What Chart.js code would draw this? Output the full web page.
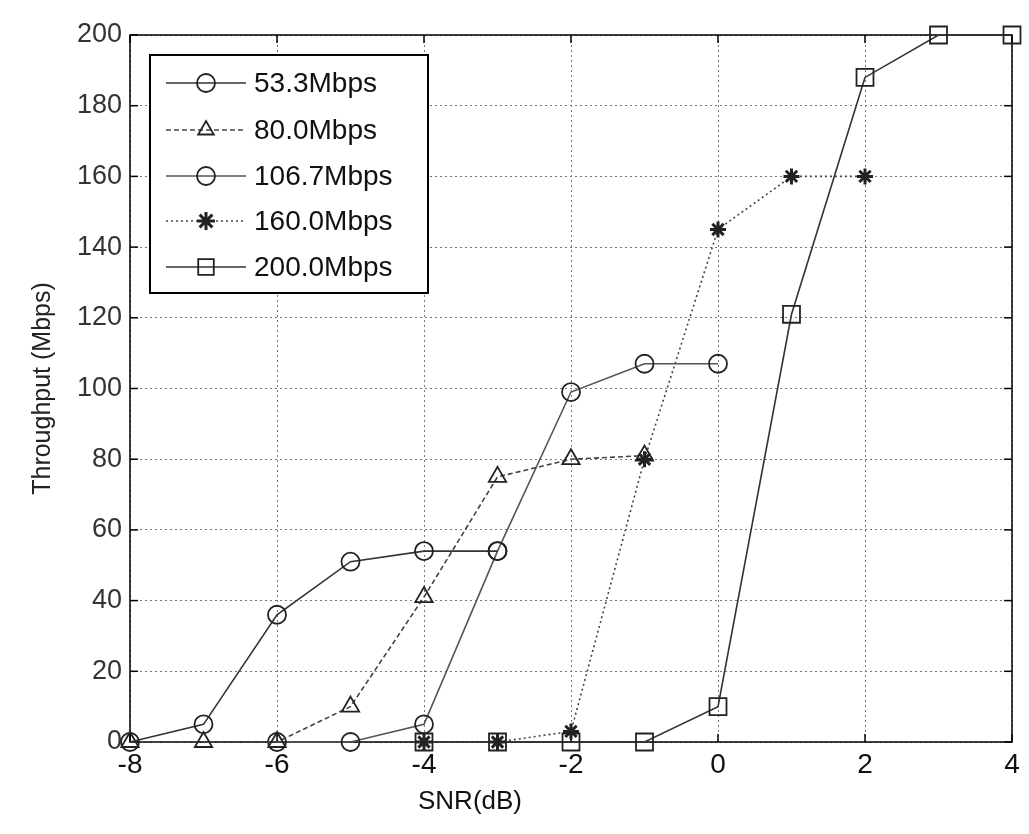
<!DOCTYPE html>
<html><head><meta charset="utf-8">
<script src="https://cdn.jsdelivr.net/npm/chart.js@4/dist/chart.umd.min.js"></script>
<style>html,body{margin:0;padding:0;background:#fff;}#wrap{width:1029px;height:834px;position:relative;}</style>
</head><body><div id="wrap"><canvas id="c" width="1029" height="834"></canvas></div>
<script>
// Data
const xTicks = [-8, -6, -4, -2, 0, 2, 4];
const yTicks = [0, 20, 40, 60, 80, 100, 120, 140, 160, 180, 200];
const seriesNames = ['53.3Mbps', '80.0Mbps', '106.7Mbps', '160.0Mbps', '200.0Mbps'];
const snr53 = [-8, -7, -6, -5, -4, -3];
const thr53 = [0, 5, 36, 51, 54, 54];
const snr80 = [-8, -7, -6, -5, -4, -3, -2, -1];
const thr80 = [0, 0, 0, 10, 41, 75, 80, 81];
const snr107 = [-6, -5, -4, -3, -2, -1, 0];
const thr107 = [0, 0, 5, 54, 99, 107, 107];
const snr160 = [-4, -3, -2, -1, 0, 1, 2];
const thr160 = [0, 0, 3, 80, 145, 160, 160];
const snr200 = [-4, -3, -2, -1, 0, 1, 2, 3, 4];
const thr200 = [0, 0, 0, 0, 10, 121, 188, 200, 200];

const pts = (xs, ys) => xs.map((x, i) => ({x: x, y: ys[i]}));
const styles = [
  {dash: [], marker: 'circle', r: 9, color: '#333'},
  {dash: [5, 3], marker: 'triangle', r: 10, color: '#444'},
  {dash: [], marker: 'circle', r: 9, color: '#555'},
  {dash: [2, 3], marker: 'star', r: 8, color: '#444'},
  {dash: [], marker: 'rect', r: 12, color: '#333'}
];
const allData = [pts(snr53, thr53), pts(snr80, thr80), pts(snr107, thr107), pts(snr160, thr160), pts(snr200, thr200)];

const datasets = allData.map((d, i) => ({
  label: seriesNames[i],
  data: d,
  borderColor: styles[i].color,
  borderWidth: 1.6,
  borderDash: styles[i].dash,
  pointStyle: styles[i].marker,
  pointRadius: styles[i].r,
  pointBorderWidth: i === 3 ? 3 : 1.8,
  pointBackgroundColor: 'rgba(255,255,255,0)',
  pointBorderColor: '#222',
  clip: false,
  tension: 0
}));

const FONT = 'Liberation Sans, Arial, sans-serif';

const framePlugin = {
  id: 'frame',
  beforeDatasetsDraw(chart) {
    const {ctx, chartArea: a, scales} = chart;
    ctx.save();
    ctx.strokeStyle = '#000';
    ctx.lineWidth = 1.5;
    ctx.setLineDash([]);
    ctx.strokeRect(a.left, a.top, a.right - a.left, a.bottom - a.top);
    yTicks.forEach(v => {
      const y = scales.y.getPixelForValue(v);
      ctx.beginPath(); ctx.moveTo(a.left, y); ctx.lineTo(a.left + 8, y); ctx.stroke();
      ctx.beginPath(); ctx.moveTo(a.right, y); ctx.lineTo(a.right - 8, y); ctx.stroke();
    });
    xTicks.forEach(v => {
      const x = scales.x.getPixelForValue(v);
      ctx.beginPath(); ctx.moveTo(x, a.bottom); ctx.lineTo(x, a.bottom - 8); ctx.stroke();
      ctx.beginPath(); ctx.moveTo(x, a.top); ctx.lineTo(x, a.top + 8); ctx.stroke();
    });
    ctx.restore();
  },
  afterDatasetsDraw(chart) {
    const {ctx} = chart;
    ctx.save();
    const lx = 150, ly = 55, lw = 278, lh = 238;
    ctx.fillStyle = '#fff';
    ctx.fillRect(lx, ly, lw, lh);
    ctx.strokeStyle = '#000';
    ctx.lineWidth = 2;
    ctx.setLineDash([]);
    ctx.strokeRect(lx, ly, lw, lh);
    const rows = [83, 130, 176, 221, 267];
    ctx.font = '28px ' + FONT;
    ctx.textBaseline = 'middle';
    ctx.textAlign = 'left';
    seriesNames.forEach((name, i) => {
      const y = rows[i];
      ctx.strokeStyle = styles[i].color;
      ctx.lineWidth = 1.6;
      ctx.setLineDash(styles[i].dash);
      ctx.beginPath(); ctx.moveTo(166, y); ctx.lineTo(246, y); ctx.stroke();
      ctx.setLineDash([]);
      ctx.strokeStyle = '#222';
      ctx.fillStyle = 'rgba(255,255,255,0)';
      ctx.lineWidth = i === 3 ? 3 : 1.8;
      Chart.helpers.drawPoint(ctx, {pointStyle: styles[i].marker, radius: i === 4 ? 11 : 9, rotation: 0, borderWidth: ctx.lineWidth}, 206, y);
      ctx.fillStyle = '#111';
      ctx.fillText(name, 254, y + 1);
    });
    ctx.font = '26px ' + FONT;
    ctx.textAlign = 'center';
    ctx.textBaseline = 'middle';
    ctx.fillStyle = '#111';
    ctx.fillText('SNR(dB)', 470, 802);
    ctx.restore();
  }
};

new Chart(document.getElementById('c'), {
  type: 'line',
  data: {datasets: datasets},
  plugins: [framePlugin],
  options: {
    responsive: false,
    animation: false,
    devicePixelRatio: 1,
    layout: {padding: {top: 35, right: 17, left: 0, bottom: 0}},
    plugins: {legend: {display: false}, tooltip: {enabled: false}},
    scales: {
      x: {
        type: 'linear', min: -8, max: 4,
        afterBuildTicks: s => { s.ticks = xTicks.map(v => ({value: v})); },
        afterFit: s => { s.height = 92; },
        grid: {color: '#777', lineWidth: 1, drawTicks: false},
        border: {display: false, dash: [2, 3]},
        ticks: {color: '#111', font: {family: FONT, size: 28}, padding: 6, callback: v => String(v)}
      },
      y: {
        type: 'linear', min: 0, max: 200,
        afterBuildTicks: s => { s.ticks = yTicks.map(v => ({value: v})); },
        afterFit: s => { s.width = 130; },
        grid: {color: '#777', lineWidth: 1, drawTicks: false},
        border: {display: false, dash: [2, 3]},
        title: {display: true, text: 'Throughput (Mbps)', color: '#222', font: {family: FONT, size: 25}, padding: {top: 28, bottom: 0}},
        ticks: {color: '#333', font: {family: FONT, size: 27}, padding: 8}
      }
    }
  }
});
</script></body></html>
